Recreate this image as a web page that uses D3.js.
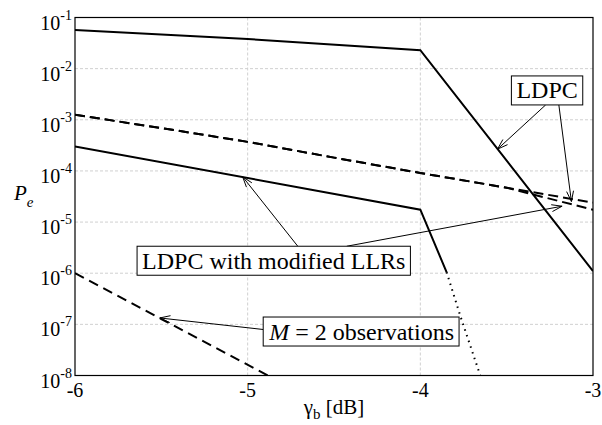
<!DOCTYPE html>
<html><head><meta charset="utf-8">
<script src="https://cdn.jsdelivr.net/npm/d3@7"></script>
</head><body style="margin:0">
<svg id="c" width="602" height="425" font-family="Times New Roman"></svg>
<script>
// ---- data ----
const xTicks = [-6, -5, -4, -3];
const yExponents = [-1, -2, -3, -4, -5, -6, -7, -8];

const ldpcGamma = [-6, -5, -4, -3];
const ldpcPe = [5.7e-2, 3.8e-2, 2.3e-2, 1.1e-6];

const ldpcDashGamma = [-6, -5.5, -5, -4.5, -4, -3.5, -3];
const ldpcDashPe = [1.25e-3, 6.9e-4, 3.7e-4, 1.82e-4, 9.1e-5, 4.7e-5, 2.4e-5];

const modDashGamma = [-6, -5.5, -5, -4.5, -4, -3.5, -3];
const modDashPe = [1.25e-3, 6.9e-4, 3.7e-4, 1.82e-4, 9.1e-5, 4.7e-5, 1.74e-5];

const modGamma = [-6, -4, -3.848];
const modPe = [3.0e-4, 1.75e-5, 1.05e-6];

const modExtGamma = [-3.848, -3.765, -3.653];
const modExtPe = [1.05e-6, 1.35e-7, 1e-8];

const m2Gamma = [-6, -5.5, -4.883];
const m2Pe = [1e-6, 1.27e-7, 1e-8];

const labelTexts = ["LDPC", "LDPC with modified LLRs", "M = 2 observations"];

// ---- layout ----
const L = 75, R = 593, T = 17.5, B = 375.5;
const svg = d3.select("#c");
const x = d3.scaleLinear().domain([-6, -3]).range([L, R]);
const y = d3.scaleLog().domain([1e-8, 1e-1]).range([B, T]);

// grid (drawn with plain lines from scale ticks)
const gridColor = "#d0d0d0";
svg.append("g").selectAll("line").data(xTicks.slice(1, -1)).join("line")
  .attr("x1", d => x(d)).attr("x2", d => x(d)).attr("y1", T).attr("y2", B)
  .attr("stroke", gridColor).attr("stroke-dasharray", "3,2");
svg.append("g").selectAll("line").data(yExponents.slice(1, -1)).join("line")
  .attr("x1", L).attr("x2", R).attr("y1", d => y(Math.pow(10, d))).attr("y2", d => y(Math.pow(10, d)))
  .attr("stroke", gridColor).attr("stroke-dasharray", "3,2");

// tick labels (x: Times New Roman attr; y: Liberation Serif style)
svg.append("g").selectAll("text").data(xTicks).join("text")
  .attr("x", d => x(d)).attr("y", B + 21).attr("text-anchor", "middle")
  .attr("font-family", "Times New Roman").attr("font-size", 20).text(d => d);

const yl = svg.append("g").selectAll("text").data(yExponents).join("text")
  .attr("x", L - 3).attr("y", d => y(Math.pow(10, d)) + 12).attr("text-anchor", "end")
  .style("font-family", "Liberation Serif").attr("font-size", 20);
yl.append("tspan").text("10");
yl.append("tspan").attr("dy", -10).attr("font-size", 14).text(d => String(d));

// clip
svg.append("clipPath").attr("id", "clip").append("rect")
  .attr("x", L).attr("y", T).attr("width", R - L).attr("height", B - T);
const plot = svg.append("g").attr("clip-path", "url(#clip)");
const line = d3.line().x(d => x(d[0])).y(d => y(d[1]));
const zip = (a, b) => a.map((v, i) => [v, b[i]]);

function drawSeries(gs, ps, dash, w) {
  plot.append("path").datum(zip(gs, ps)).attr("d", line)
    .attr("fill", "none").attr("stroke", "#000").attr("stroke-width", w)
    .attr("stroke-dasharray", dash).attr("stroke-linejoin", "miter");
}
drawSeries(ldpcGamma, ldpcPe, null, 2);
drawSeries(ldpcDashGamma, ldpcDashPe, "10,5", 2);
drawSeries(modDashGamma, modDashPe, "10,5", 2);
drawSeries(modGamma, modPe, null, 2);
drawSeries(modExtGamma, modExtPe, "1.5,4.5", 2);
drawSeries(m2Gamma, m2Pe, "10,6", 2);

// frame
svg.append("rect").attr("x", L).attr("y", T).attr("width", R - L).attr("height", B - T)
  .attr("fill", "none").attr("stroke", "#000").attr("stroke-width", 1.2);

// axis titles
const xt = svg.append("text").attr("x", 334).attr("y", 414).attr("text-anchor", "middle")
  .style("font-family", "Tinos").attr("font-size", 21);
xt.append("tspan").text("γ");
xt.append("tspan").attr("dy", 5).attr("font-size", 15).text("b");
xt.append("tspan").attr("dy", -5).text(" [dB]");

const yt = svg.append("text").attr("x", 14).attr("y", 200).style("font-family", "Liberation Serif").attr("font-size", 21);
yt.append("tspan").attr("font-style", "italic").text("P");
yt.append("tspan").attr("dy", 7).attr("font-size", 15).attr("font-style", "italic").text("e");

// annotations (centers and arrow tips in data coordinates)
const annotations = [
  { text: labelTexts[0], cx: -3.266, cy: Math.pow(10, -2.426),
    arrows: [{ side: "bottom", t: 0.48, tip: [-3.553, Math.pow(10, -3.574)] },
             { side: "bottom", t: 0.665, tip: [-3.125, Math.pow(10, -4.598)] }] },
  { text: labelTexts[1], cx: -4.849, cy: Math.pow(10, -5.756),
    arrows: [{ side: "top", t: 0.588, tip: [-5.029, Math.pow(10, -4.115)] },
             { side: "top", t: 0.767, tip: [-3.179, Math.pow(10, -4.69)] }] },
  { text: labelTexts[2], cx: -4.34, cy: Math.pow(10, -7.14), italicFirst: true,
    arrows: [{ side: "left", t: 0.43, tip: [-5.509, Math.pow(10, -6.875)] }] }
];

const ann = svg.append("g");
annotations.forEach(a => {
  const g = ann.append("g");
  const px = x(a.cx), py = y(a.cy);
  const rect = g.append("rect");
  const t = g.append("text").attr("x", px).attr("y", py + 8).attr("text-anchor", "middle")
    .style("font-family", "Liberation Serif").attr("font-size", 24);
  if (a.italicFirst) {
    t.append("tspan").attr("font-style", "italic").text(a.text.slice(0, 1));
    t.append("tspan").text(a.text.slice(1));
  } else t.text(a.text);
  const bb = t.node().getBBox();
  const bx = bb.x - 5, by = py - 14.5, bw = bb.width + 10, bh = 29;
  rect.attr("x", bx).attr("y", by).attr("width", bw).attr("height", bh)
    .attr("fill", "#fff").attr("stroke", "#000").attr("stroke-width", 1);
  a.arrows.forEach(ar => {
    let sx, sy;
    if (ar.side === "bottom") { sx = bx + ar.t * bw; sy = by + bh; }
    else if (ar.side === "top") { sx = bx + ar.t * bw; sy = by; }
    else { sx = bx; sy = by + ar.t * bh; }
    const tx = x(ar.tip[0]), ty = y(ar.tip[1]);
    const ang = Math.atan2(ty - sy, tx - sx);
    const hl = 11, ha = 0.32;
    const p1 = [tx - hl * Math.cos(ang - ha), ty - hl * Math.sin(ang - ha)];
    const p2 = [tx - hl * Math.cos(ang + ha), ty - hl * Math.sin(ang + ha)];
    g.insert("path", "rect").attr("d", `M${sx},${sy}L${tx},${ty}M${p1[0]},${p1[1]}L${tx},${ty}L${p2[0]},${p2[1]}`)
      .attr("fill", "none").attr("stroke", "#000").attr("stroke-width", 1);
  });
});
</script>
</body></html>
